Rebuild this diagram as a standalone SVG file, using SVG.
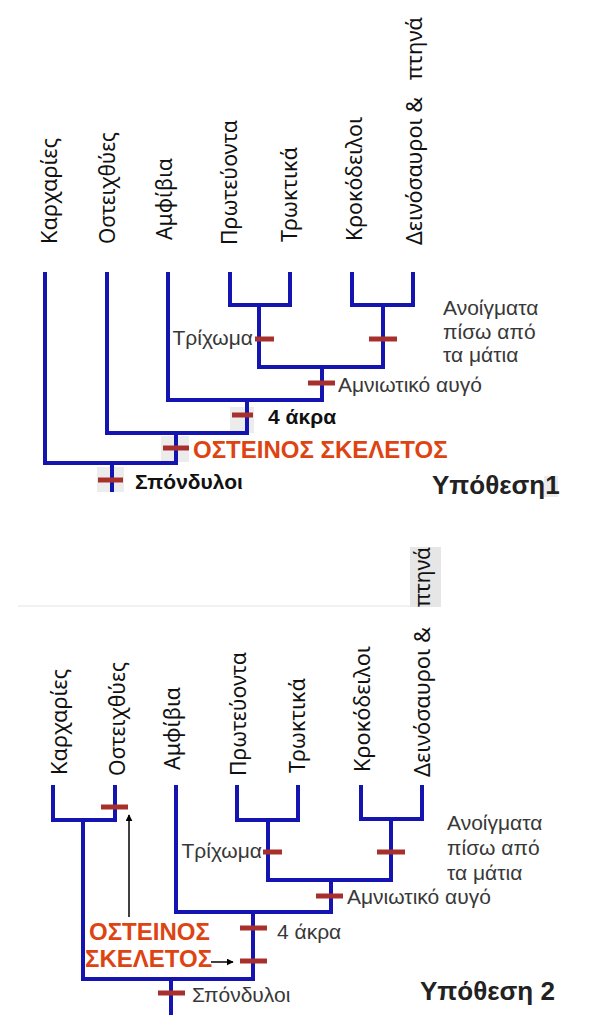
<svg xmlns="http://www.w3.org/2000/svg" width="603" height="1024" viewBox="0 0 603 1024">
<defs>
<style>
.br{fill:none;stroke:#1414b0;stroke-width:4;stroke-linecap:square;stroke-linejoin:miter}
.tk{fill:#a8302c}
.hl{fill:#ececec}
.tax{font-family:"Noto Sans","DejaVu Sans",sans-serif;font-size:21px;fill:#111}
.tr{font-family:"Liberation Sans",Arial,sans-serif;font-size:21px;fill:#383838}
.trb{font-family:"Liberation Sans",Arial,sans-serif;font-size:21px;font-weight:bold;fill:#111}
.ost{font-family:"Liberation Sans",Arial,sans-serif;font-size:24px;font-weight:bold;fill:#dd4412}
.hyp{font-family:"Liberation Sans",Arial,sans-serif;font-size:26px;font-weight:bold;fill:#222}
.ar{stroke:#000;stroke-width:1.5;fill:none}
</style>
<marker id="ah" viewBox="0 0 10 10" refX="9" refY="5" markerWidth="7" markerHeight="7" orient="auto" markerUnits="userSpaceOnUse"><path d="M0,0L10,5L0,10z" fill="#000"/></marker>
</defs>
<rect width="603" height="1024" fill="#fff"/>

<!-- ========== Hypothesis 1 ========== -->
<g id="h1-highlights">
<rect class="hl" x="230" y="407" width="24" height="26"/>
<rect class="hl" x="161" y="436" width="28" height="26"/>
<rect class="hl" x="97" y="467" width="27" height="25"/>
<rect class="hl" x="544" y="476" width="14" height="21"/>
</g>
<g id="h1-connectors">
<path class="br" d="M45,274V463H176"/>
<path class="br" d="M107,274V433H247"/>
<path class="br" d="M168,274V400H322"/>
<path class="br" d="M230,274V305H290V274"/>
<path class="br" d="M352,274V305H413V274"/>
<path class="br" d="M259,305V367H383V305"/>
<path class="br" d="M322,367V400"/>
<path class="br" d="M247,400V433"/>
<path class="br" d="M176,433V463"/>
<path class="br" d="M112,463V490"/>
</g>
<g id="h1-karcharies"><text class="tax" transform="translate(57,244) rotate(-90)" textLength="106" lengthAdjust="spacingAndGlyphs">Καρχαρίες</text></g>
<g id="h1-osteichthyes"><text class="tax" transform="translate(115,244) rotate(-90)" textLength="112" lengthAdjust="spacingAndGlyphs">Οστειχθύες</text></g>
<g id="h1-amfibia"><text class="tax" transform="translate(172,240) rotate(-90)" textLength="82" lengthAdjust="spacingAndGlyphs">Αμφίβια</text></g>
<g id="h1-proteuonta"><text class="tax" transform="translate(237,245) rotate(-90)" textLength="125" lengthAdjust="spacingAndGlyphs">Πρωτεύοντα</text></g>
<g id="h1-troktika"><text class="tax" transform="translate(297,242) rotate(-90)" textLength="95" lengthAdjust="spacingAndGlyphs">Τρωκτικά</text></g>
<g id="h1-krokodeiloi"><text class="tax" transform="translate(362,241) rotate(-90)" textLength="124" lengthAdjust="spacingAndGlyphs">Κροκόδειλοι</text></g>
<g id="h1-deinosauroi">
<text class="tax" transform="translate(422,245) rotate(-90)" textLength="148" lengthAdjust="spacingAndGlyphs">Δεινόσαυροι &amp;</text>
<text class="tax" transform="translate(422,80) rotate(-90)" textLength="63" lengthAdjust="spacingAndGlyphs">πτηνά</text>
</g>
<g id="h1-trichoma"><rect class="tk" x="255" y="336.5" width="19" height="5"/><text class="tr" x="253" y="345" text-anchor="end">Τρίχωμα</text></g>
<g id="h1-anoigmata"><rect class="tk" x="369" y="336.5" width="28" height="5"/>
<text class="tr" x="443" y="315">Ανοίγματα</text><text class="tr" x="443" y="339">πίσω από</text><text class="tr" x="443" y="362">τα μάτια</text></g>
<g id="h1-amniotiko"><rect class="tk" x="308" y="380.5" width="27" height="5"/><text class="tr" x="338" y="392">Αμνιωτικό αυγό</text></g>
<g id="h1-akra"><rect class="tk" x="232" y="412.5" width="21" height="5"/><text class="trb" x="268" y="424">4 άκρα</text></g>
<g id="h1-osteinos"><rect class="tk" x="163" y="445.5" width="26" height="5"/><text class="ost" x="193" y="458">ΟΣΤΕΙΝΟΣ ΣΚΕΛΕΤΟΣ</text></g>
<g id="h1-spondyloi"><rect class="tk" x="98" y="477.5" width="25" height="5"/><text class="trb" x="135" y="489" font-size="22">Σπόνδυλοι</text></g>
<g id="h1-title"><text class="hyp" x="432" y="494">Υπόθεση1</text></g>

<!-- separator -->
<line x1="18" y1="606" x2="410" y2="606" stroke="#ececec" stroke-width="1.5"/>
<rect x="410" y="547" width="31" height="60" fill="#e6e6e6"/>

<!-- ========== Hypothesis 2 ========== -->
<g id="h2-connectors">
<path class="br" d="M53,787V820H115V787"/>
<path class="br" d="M83,820V979H253"/>
<path class="br" d="M176,787V912H331"/>
<path class="br" d="M237,787V820H298V787"/>
<path class="br" d="M361,787V819H422V787"/>
<path class="br" d="M268,820V880H391V819"/>
<path class="br" d="M331,880V912"/>
<path class="br" d="M253,912V979"/>
<path class="br" d="M171,979V1013"/>
</g>
<g id="h2-karcharies"><text class="tax" transform="translate(67,775) rotate(-90)" textLength="106" lengthAdjust="spacingAndGlyphs">Καρχαρίες</text></g>
<g id="h2-osteichthyes"><text class="tax" transform="translate(125,776) rotate(-90)" textLength="114" lengthAdjust="spacingAndGlyphs">Οστειχθύες</text></g>
<g id="h2-amfibia"><text class="tax" transform="translate(180,770) rotate(-90)" textLength="83" lengthAdjust="spacingAndGlyphs">Αμφίβια</text></g>
<g id="h2-proteuonta"><text class="tax" transform="translate(246,776) rotate(-90)" textLength="124" lengthAdjust="spacingAndGlyphs">Πρωτεύοντα</text></g>
<g id="h2-troktika"><text class="tax" transform="translate(305,773) rotate(-90)" textLength="95" lengthAdjust="spacingAndGlyphs">Τρωκτικά</text></g>
<g id="h2-krokodeiloi"><text class="tax" transform="translate(370,772) rotate(-90)" textLength="126" lengthAdjust="spacingAndGlyphs">Κροκόδειλοι</text></g>
<g id="h2-deinosauroi">
<text class="tax" transform="translate(430,777) rotate(-90)" textLength="150" lengthAdjust="spacingAndGlyphs">Δεινόσαυροι &amp;</text>
<text class="tax" transform="translate(430,607) rotate(-90)" textLength="60" lengthAdjust="spacingAndGlyphs">πτηνά</text>
</g>
<g id="h2-osteichthyes-trait"><rect class="tk" x="101" y="804.5" width="27" height="5"/></g>
<g id="h2-trichoma"><rect class="tk" x="263" y="849.5" width="19" height="5"/><text class="tr" x="262" y="858" text-anchor="end">Τρίχωμα</text></g>
<g id="h2-anoigmata"><rect class="tk" x="377" y="849.5" width="28" height="5"/>
<text class="tr" x="447" y="830">Ανοίγματα</text><text class="tr" x="447" y="855">πίσω από</text><text class="tr" x="447" y="880">τα μάτια</text></g>
<g id="h2-amniotiko"><rect class="tk" x="316" y="893.5" width="27" height="5"/><text class="tr" x="347" y="904">Αμνιωτικό αυγό</text></g>
<g id="h2-akra"><rect class="tk" x="240" y="925.5" width="27" height="5"/><text class="tr" x="277" y="939">4 άκρα</text></g>
<g id="h2-osteinos"><rect class="tk" x="240" y="958.5" width="27" height="5"/>
<text class="ost" x="89" y="940">ΟΣΤΕΙΝΟΣ</text><text class="ost" x="85" y="967">ΣΚΕΛΕΤΟΣ</text></g>
<g id="h2-arrows">
<line class="ar" x1="129" y1="917" x2="129" y2="815" marker-end="url(#ah)"/>
<line class="ar" x1="211" y1="962" x2="233" y2="962" marker-end="url(#ah)"/>
</g>
<g id="h2-spondyloi"><rect class="tk" x="158" y="990.5" width="27" height="5"/><text class="tr" x="192" y="1002">Σπόνδυλοι</text></g>
<g id="h2-title"><text class="hyp" x="420" y="1000">Υπόθεση 2</text></g>
</svg>
